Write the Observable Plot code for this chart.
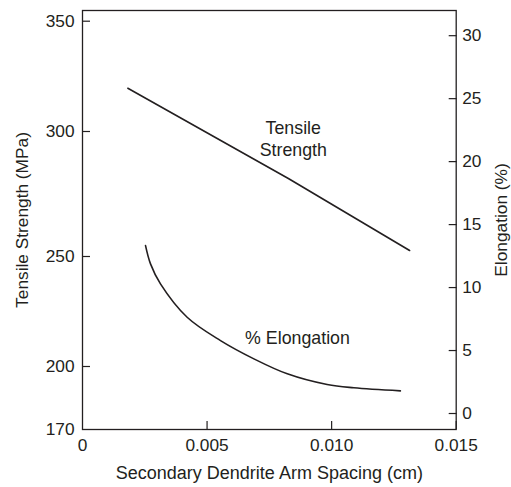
<!DOCTYPE html>
<html>
<head>
<meta charset="utf-8">
<script src="https://cdn.jsdelivr.net/npm/d3@7"></script>
<script src="https://cdn.jsdelivr.net/npm/@observablehq/plot@0.6"></script>
<style>
  html, body { margin: 0; padding: 0; background: #fff; }
</style>
</head>
<body>
<div id="chart"></div>
<script>
// ---- data ----
const tensileSpacing = [0.00182, 0.00828, 0.01313];      // cm
const tensileStrength = [319.6, 281.1, 252.4];            // MPa
const elongSpacing = [0.00253, 0.00273, 0.00313, 0.00420, 0.00554, 0.00688, 0.00822, 0.00982, 0.01089, 0.01276];
const elongation   = [13.33, 11.88, 10.29, 7.64, 5.79, 4.34, 3.15, 2.30, 2.04, 1.80]; // %
const xTicks = [0, 0.005, 0.010, 0.015];
const tensileTicks = [170, 200, 250, 300, 350];
const elongTicks = [0, 5, 10, 15, 20, 25, 30];
const tensileLabel = {text: "Tensile\nStrength", x: 0.00846, y: 297.5};
const elongLabel = {text: "% Elongation", x: 0.00863, y: 5.95};

// ---- scales (the original's left axis is unevenly spaced) ----
const ink = "#231f20";
const W = 511, H = 487;
const mL = 82, mR = 55.3, mT = 10, mB = 58;
const yBottom = H - mB, yTop = mT;
const tensileDomain = [170, 200, 250, 300, 350, 354.85];
const tensileRange  = [yBottom, 366, 256, 131, 20.7, yTop];
const tPix = d3.scaleLinear(tensileDomain, tensileRange);
const ePix = d3.scaleLinear([-1.27, 32], [yBottom, yTop]);
const eToT = e => tPix.invert(ePix(e));
const tToE = t => ePix.invert(tPix(t));

const tensileData = tensileSpacing.map((x, i) => ({x, y: tensileStrength[i]}));
const elongData = elongSpacing.map((x, i) => ({x, y: eToT(elongation[i])}));

const chart = Plot.plot({
  width: W, height: H,
  marginLeft: mL, marginRight: mR, marginTop: mT, marginBottom: mB,
  style: {fontFamily: "'Liberation Sans', Arial, Helvetica, sans-serif", fontSize: "17px", color: ink, background: "#fff"},
  x: {domain: [0, 0.015]},
  y: {type: "linear", domain: tensileDomain, range: tensileRange},
  marks: [
    Plot.frame({stroke: ink, strokeWidth: 1.3}),
    // x axis
    Plot.axisX(xTicks, {anchor: "bottom", tickSize: 0, tickPadding: 9, fontSize: 17.3, label: null,
      tickFormat: d => d === 0 ? "0" : d.toFixed(3)}),
    Plot.axisX(xTicks.slice(1), {anchor: "bottom", tickSize: -8, text: null, label: null, stroke: ink, strokeWidth: 1.2}),
    // left axis
    Plot.axisY(tensileTicks, {anchor: "left", tickSize: 0, tickPadding: 8, fontSize: 17.3, label: null}),
    Plot.axisY(tensileTicks.slice(1), {anchor: "left", tickSize: -8, text: null, label: null, stroke: ink, strokeWidth: 1.2}),
    // right axis (elongation)
    Plot.axisY(elongTicks.map(eToT), {anchor: "right", tickSize: 0, tickPadding: 6, fontSize: 17.3, label: null,
      tickFormat: d => String(Math.round(tToE(d)))}),
    Plot.axisY(elongTicks.map(eToT), {anchor: "right", tickSize: -8, text: null, label: null, stroke: ink, strokeWidth: 1.2}),
    // axis titles
    Plot.text(["Secondary Dendrite Arm Spacing (cm)"], {frameAnchor: "bottom", dy: 44, lineAnchor: "middle", textAnchor: "middle", fontSize: 18, fill: ink}),
    Plot.text(["Tensile Strength (MPa)"], {frameAnchor: "left", dx: -60, rotate: -90, textAnchor: "middle", lineAnchor: "middle", fontSize: 17.3, fill: ink}),
    Plot.text(["Elongation (%)"], {frameAnchor: "right", dx: 45.5, rotate: -90, textAnchor: "middle", lineAnchor: "middle", fontSize: 17.3, fill: ink}),
    // curves
    Plot.line(tensileData, {x: "x", y: "y", stroke: ink, strokeWidth: 1.6}),
    Plot.line(elongData, {x: "x", y: "y", stroke: ink, strokeWidth: 1.6, curve: "catmull-rom"}),
    // annotations
    Plot.text([tensileLabel], {x: "x", y: "y", text: "text", fontSize: 17.8, lineHeight: 1.22, fill: ink}),
    Plot.text([elongLabel], {x: "x", y: d => eToT(d.y), text: "text", fontSize: 17.8, fill: ink})
  ]
});
document.getElementById("chart").appendChild(chart);
</script>
</body>
</html>
